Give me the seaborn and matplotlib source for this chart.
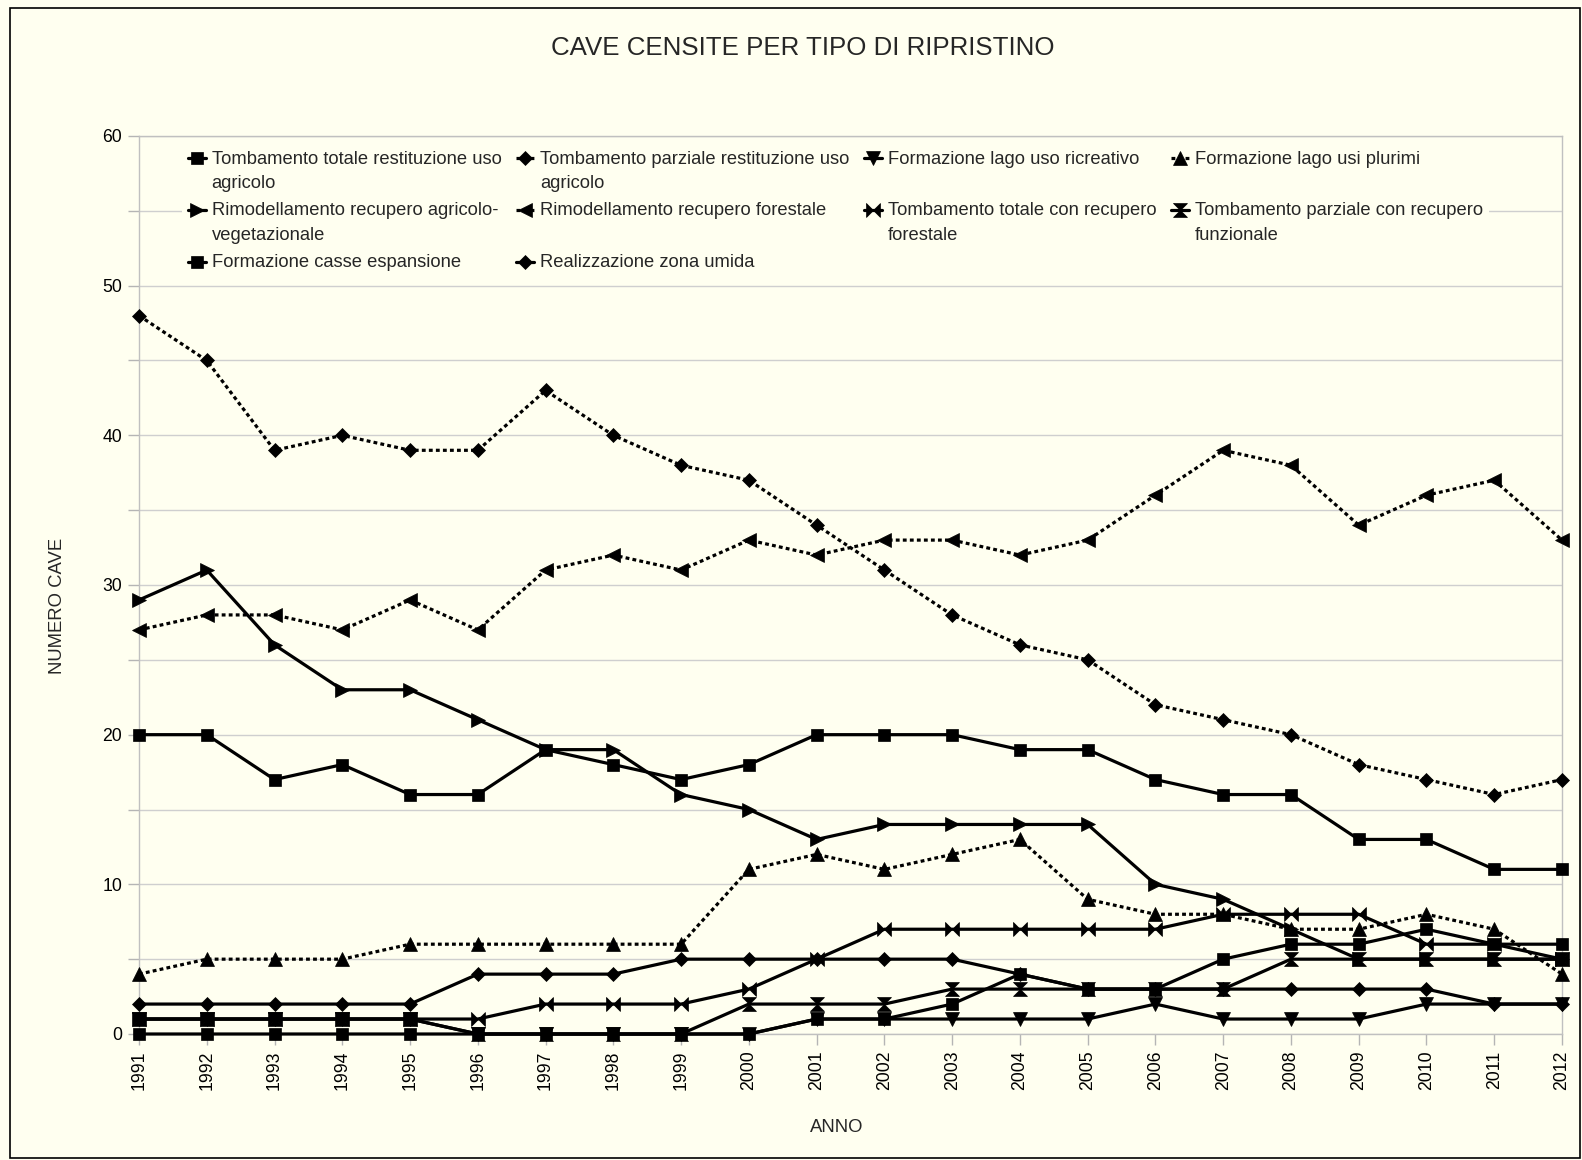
import numpy as np
import pandas as pd
import seaborn as sns
import matplotlib.pyplot as plt
from matplotlib.patches import Rectangle

anni = list(range(1991, 2013))

tot_restituzione = [20, 20, 17, 18, 16, 16, 19, 18, 17, 18, 20, 20, 20, 19, 19, 17, 16, 16, 13, 13, 11, 11]
parz_restituzione = [48, 45, 39, 40, 39, 39, 43, 40, 38, 37, 34, 31, 28, 26, 25, 22, 21, 20, 18, 17, 16, 17]
lago_ricreativo = [1, 1, 1, 1, 1, 0, 0, 0, 0, 0, 1, 1, 1, 1, 1, 2, 1, 1, 1, 2, 2, 2]
lago_plurimi = [4, 5, 5, 5, 6, 6, 6, 6, 6, 11, 12, 11, 12, 13, 9, 8, 8, 7, 7, 8, 7, 4]
rimod_agricolo = [29, 31, 26, 23, 23, 21, 19, 19, 16, 15, 13, 14, 14, 14, 14, 10, 9, 7, 5, 5, 5, 5]
rimod_forestale = [27, 28, 28, 27, 29, 27, 31, 32, 31, 33, 32, 33, 33, 32, 33, 36, 39, 38, 34, 36, 37, 33]
tot_forestale = [1, 1, 1, 1, 1, 1, 2, 2, 2, 3, 5, 7, 7, 7, 7, 7, 8, 8, 8, 6, 6, 5]
parz_funzionale = [1, 1, 1, 1, 1, 0, 0, 0, 0, 2, 2, 2, 3, 3, 3, 3, 3, 5, 5, 5, 5, 5]
casse_espansione = [0, 0, 0, 0, 0, 0, 0, 0, 0, 0, 1, 1, 2, 4, 3, 3, 5, 6, 6, 7, 6, 6]
zona_umida = [2, 2, 2, 2, 2, 4, 4, 4, 5, 5, 5, 5, 5, 4, 3, 3, 3, 3, 3, 3, 2, 2]

etichette = [
    "Tombamento totale restituzione uso\nagricolo",
    "Tombamento parziale restituzione uso\nagricolo",
    "Formazione lago uso ricreativo\n ",
    "Formazione lago usi plurimi\n ",
    "Rimodellamento recupero agricolo-\nvegetazionale",
    "Rimodellamento recupero forestale\n ",
    "Tombamento totale con recupero\nforestale",
    "Tombamento parziale con recupero\nfunzionale",
    "Formazione casse espansione",
    "Realizzazione zona umida",
]

df = pd.DataFrame({
    "anno": anni,
    "tot_restituzione": tot_restituzione,
    "parz_restituzione": parz_restituzione,
    "lago_ricreativo": lago_ricreativo,
    "lago_plurimi": lago_plurimi,
    "rimod_agricolo": rimod_agricolo,
    "rimod_forestale": rimod_forestale,
    "tot_forestale": tot_forestale,
    "parz_funzionale": parz_funzionale,
    "casse_espansione": casse_espansione,
    "zona_umida": zona_umida,
})

bg = "#fffff0"
dotted = (0, (1.2, 1.0))
bowtie = [(-1, 1), (1, -1), (1, 1), (-1, -1), (-1, 1)]
hourglass = [(-1, 1), (1, 1), (-1, -1), (1, -1), (-1, 1)]

# column, marker, marker size, line style
stili = [
    ("tot_restituzione", "s", 8.5, "-"),
    ("parz_restituzione", "D", 7, dotted),
    ("lago_ricreativo", "v", 9.5, "-"),
    ("lago_plurimi", "^", 9.5, dotted),
    ("rimod_agricolo", ">", 9.5, "-"),
    ("rimod_forestale", "<", 9.5, dotted),
    ("tot_forestale", bowtie, 10, "-"),
    ("parz_funzionale", hourglass, 10, "-"),
    ("casse_espansione", "s", 8.5, "-"),
    ("zona_umida", "D", 7, "-"),
]

sns.set_theme(style="white")
plt.rcParams["font.family"] = ["Liberation Sans", "DejaVu Sans"]

fig = plt.figure(figsize=(15.82, 11.6), dpi=100, facecolor=bg)
ax = fig.add_axes([139 / 1582, 1 - 1034 / 1160, (1562 - 139) / 1582, (1034 - 136) / 1160])
ax.set_facecolor(bg)

for col, mk, ms, ls in stili:
    sns.lineplot(data=df, x="anno", y=col, ax=ax, color="black", marker=mk,
                 markersize=ms, markeredgecolor="black", markeredgewidth=0.5,
                 linewidth=2.3, linestyle=ls, legend=False, errorbar=None,
                 clip_on=False, zorder=3)

ax.set_xlim(1991, 2012)
ax.set_ylim(0, 60)
ax.set_xticks(anni)
ax.set_xticklabels([str(a) for a in anni], rotation=90)
ax.set_yticks(range(0, 61, 5))
ax.set_yticklabels([str(v) if v % 10 == 0 else "" for v in range(0, 61, 5)])
ax.set_axisbelow(True)
ax.yaxis.grid(True, color="#cfcfcf", linewidth=1)
ax.xaxis.grid(False)
ax.tick_params(axis="both", direction="out", length=8, width=1, color="#b5b5b5",
               labelsize=12.7, labelcolor="black", pad=4, bottom=True, left=True)
for s in ax.spines.values():
    s.set_color("#c0c0c0")
    s.set_linewidth(1)
    s.set_zorder(1)
ax.set_xlabel("")
ax.set_ylabel("")

fig.text(803 / 1582, 1 - 48 / 1160, "CAVE CENSITE PER TIPO DI RIPRISTINO",
         ha="center", va="center", fontsize=18.6)
fig.text(57.5 / 1582, 1 - 606 / 1160, "NUMERO CAVE", rotation=90,
         ha="center", va="center", fontsize=13.3)
fig.text(837 / 1582, 1 - 1127 / 1160, "ANNO", ha="center", va="center", fontsize=13.3)

ordine = [0, 4, 8, 1, 5, 9, 2, 6, 3, 7]
handles = [ax.lines[i] for i in ordine]
labels = [etichette[i] for i in ordine]
leg = ax.legend(handles, labels, ncol=4, loc="upper left",
                bbox_to_anchor=((173 - 139) / (1562 - 139), (1034 - 136) / (1034 - 136)),
                frameon=True, facecolor=bg, edgecolor="none", framealpha=1,
                fontsize=13.2, handlelength=1.0, handleheight=1.1, handletextpad=0.3,
                columnspacing=0.8, labelspacing=0.58, borderpad=0.3,
                fancybox=False)
leg.set_zorder(5)
for t in leg.get_texts():
    t.set_linespacing(1.55)
for colbox in leg._legend_handle_box.get_children():
    for item in colbox.get_children():
        item.align = "top"

fig.add_artist(Rectangle((10 / 1582, 1 - 1158 / 1160), 1570 / 1582, 1150 / 1160,
                         transform=fig.transFigure, fill=False, edgecolor="black",
                         linewidth=1.2))

fig.savefig("out.png", dpi=100, facecolor=bg)
